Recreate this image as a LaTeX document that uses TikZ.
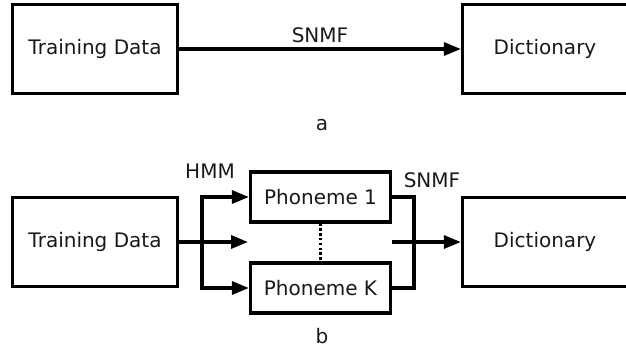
\documentclass[tikz,border=0pt]{standalone}
\usepackage{fontspec}
\setmainfont{DejaVu Sans}
\usetikzlibrary{positioning,arrows.meta}

\begin{document}
\begin{tikzpicture}[
    x=1pt, y=-1pt,
    every node/.style={font=\fontsize{20}{24}\selectfont, text=black!90},
    block/.style={rectangle, draw=black, line width=3.2pt, minimum width=165pt, minimum height=89pt, text centered},
    phoneme/.style={rectangle, draw=black, line width=3.2pt, minimum width=140pt, minimum height=50pt, text centered},
    arrow/.style={-{Triangle[length=17pt,width=13pt]}, line width=3.2pt, black},
    wire/.style={line width=3.2pt, black}
]
    \useasboundingbox (0,0) rectangle (626,349);

    % a: direct
    \node[block] (data1) at (95,49) {Training Data};
    \node[block] (dict1) at (545,49) {Dictionary};
    \draw[arrow] (data1) -- node[above=1pt] {SNMF} (dict1);
    \node (labela) at (322,125) {a};

    % b: through the phoneme models
    \node[block] (data2) at (95,242) {Training Data};
    \node[block] (dict2) at (545,242) {Dictionary};
    \node[phoneme] (ph1) at (320.5,197) {Phoneme 1};
    \node[phoneme] (phK) at (320.5,288) {Phoneme K};

    \coordinate (split) at (202,242);
    \coordinate (midin) at (248,242);
    \coordinate (midout) at (392,242);
    \coordinate (merge) at (414,242);

    \draw[arrow] (data2) -- (midin);
    \draw[arrow] (split) |- (ph1);
    \draw[arrow] (split) |- (phK);
    \draw[wire] (ph1) -| (merge) |- (phK);
    \draw[arrow] (midout) -- (dict2);
    \draw[line width=2.4pt, dash pattern=on 2.4pt off 2.4pt] (ph1) -- (phK);

    \node (hmm) at (210,171) {HMM};
    \node (snmf) at (432,180) {SNMF};
    \node (labelb) at (322,336) {b};
\end{tikzpicture}
\end{document}
